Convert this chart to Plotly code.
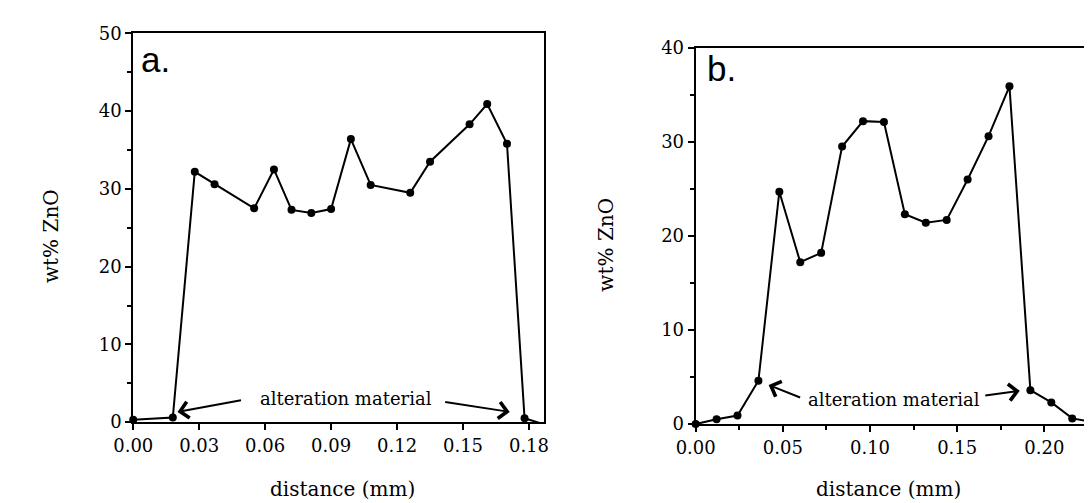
import plotly.graph_objects as go

# Panel a data
dist_a = [0.000, 0.018, 0.028, 0.037, 0.055, 0.064, 0.072, 0.081, 0.090, 0.099,
          0.108, 0.126, 0.135, 0.153, 0.161, 0.170, 0.178, 0.187]
zno_a = [0.3, 0.6, 32.2, 30.6, 27.5, 32.5, 27.3, 26.9, 27.4, 36.4,
         30.5, 29.5, 33.5, 38.3, 40.9, 35.8, 0.5, -0.3]

# Panel b data
dist_b = [0.000, 0.012, 0.024, 0.036, 0.048, 0.060, 0.072, 0.084, 0.096, 0.108,
          0.120, 0.132, 0.144, 0.156, 0.168, 0.180, 0.192, 0.204, 0.216, 0.228]
zno_b = [0.0, 0.5, 0.9, 4.6, 24.7, 17.2, 18.2, 29.5, 32.2, 32.1,
         22.3, 21.4, 21.7, 26.0, 30.6, 35.9, 3.6, 2.3, 0.6, 0.2]

ticks_a_x = [0.00, 0.03, 0.06, 0.09, 0.12, 0.15, 0.18]
ticks_b_x = [0.00, 0.05, 0.10, 0.15, 0.20]
ticks_a_y = [0, 10, 20, 30, 40, 50]
ticks_b_y = [0, 10, 20, 30, 40]

W, H = 1092, 503
SERIF = "DejaVu Serif, Liberation Serif, serif"
SANS = "Liberation Sans, Arial, sans-serif"
fig = go.Figure()

line = dict(color="black", width=2)
mk = dict(color="black", size=8)
fig.add_trace(go.Scatter(x=dist_a, y=zno_a, mode="lines+markers", line=line, marker=mk,
                         xaxis="x", yaxis="y", showlegend=False, cliponaxis=False))
fig.add_trace(go.Scatter(x=dist_b, y=zno_b, mode="lines+markers", line=line, marker=mk,
                         xaxis="x2", yaxis="y2", showlegend=False, cliponaxis=False))

def px_x(p):
    return p / W

def px_y(p):
    return 1 - p / H

ax_common = dict(showline=True, linecolor="black", linewidth=2, mirror=True,
                 ticks="outside", ticklen=6, tickwidth=2, tickcolor="black",
                 showgrid=False, zeroline=False,
                 tickfont=dict(family=SERIF, size=18, color="black"))
minor_style = dict(ticks="outside", ticklen=4, tickcolor="black", tickwidth=1.5)

fig.update_layout(
    width=W, height=H, margin=dict(l=0, r=0, t=0, b=0),
    paper_bgcolor="white", plot_bgcolor="white",
    xaxis=dict(domain=[px_x(107.7), px_x(528)], range=[0, 0.1868], anchor="y",
               tickvals=ticks_a_x, ticktext=[f"{v:.2f}" for v in ticks_a_x], **ax_common),
    yaxis=dict(domain=[px_y(420.7), px_y(15)], range=[0, 50], anchor="x",
               tickvals=ticks_a_y, minor=dict(dtick=5, **minor_style), **ax_common),
    xaxis2=dict(domain=[px_x(683.3), px_x(1091)], range=[0, 0.2285], anchor="y2",
                tickvals=ticks_b_x, ticktext=[f"{v:.2f}" for v in ticks_b_x],
                minor=dict(dtick=0.025, tick0=0, **minor_style), **ax_common),
    yaxis2=dict(domain=[px_y(422.7), px_y(30)], range=[0, 40], anchor="x2",
                tickvals=ticks_b_y, minor=dict(dtick=5, **minor_style), **ax_common),
)

anns = []
# panel labels
anns.append(dict(text="a.", x=px_x(114), y=px_y(42), xref="paper", yref="paper",
                 xanchor="left", yanchor="middle", showarrow=False,
                 font=dict(family=SANS, size=35, color="black")))
anns.append(dict(text="b.", x=px_x(693), y=px_y(52), xref="paper", yref="paper",
                 xanchor="left", yanchor="middle", showarrow=False,
                 font=dict(family=SANS, size=35, color="black")))
# axis titles
for cx, cy in [(322, 490), (881, 490)]:
    anns.append(dict(text="distance (mm)", x=px_x(cx), y=px_y(cy), xref="paper", yref="paper",
                     xanchor="center", yanchor="middle", showarrow=False,
                     font=dict(family=SERIF, size=20, color="black")))
for cx, cy in [(23, 226), (592, 235)]:
    anns.append(dict(text="wt% ZnO", x=px_x(cx), y=px_y(cy), xref="paper", yref="paper",
                     xanchor="center", yanchor="middle", showarrow=False, textangle=-90,
                     font=dict(family=SERIF, size=20, color="black")))
# alteration material labels
for cx, cy in [(325, 396), (886, 397)]:
    anns.append(dict(text="alteration material", x=px_x(cx), y=px_y(cy), xref="paper", yref="paper",
                     xanchor="center", yanchor="middle", showarrow=False,
                     font=dict(family=SERIF, size=18, color="black")))
# arrows (head at x,y; tail offset ax,ay in pixels)
arrow = dict(showarrow=True, arrowhead=4, arrowsize=1.6, arrowwidth=2, arrowcolor="black",
             text="", xref="paper", yref="paper")
for hx, hy, tx, ty in [(153, 410, 218, 398), (493, 410, 427, 400),
                       (758, 382, 791, 395), (1015, 388, 979, 393)]:
    anns.append(dict(x=px_x(hx), y=px_y(hy), ax=tx - hx, ay=ty - hy, **arrow))

fig.update_layout(annotations=anns)
fig.write_html("out.html")
